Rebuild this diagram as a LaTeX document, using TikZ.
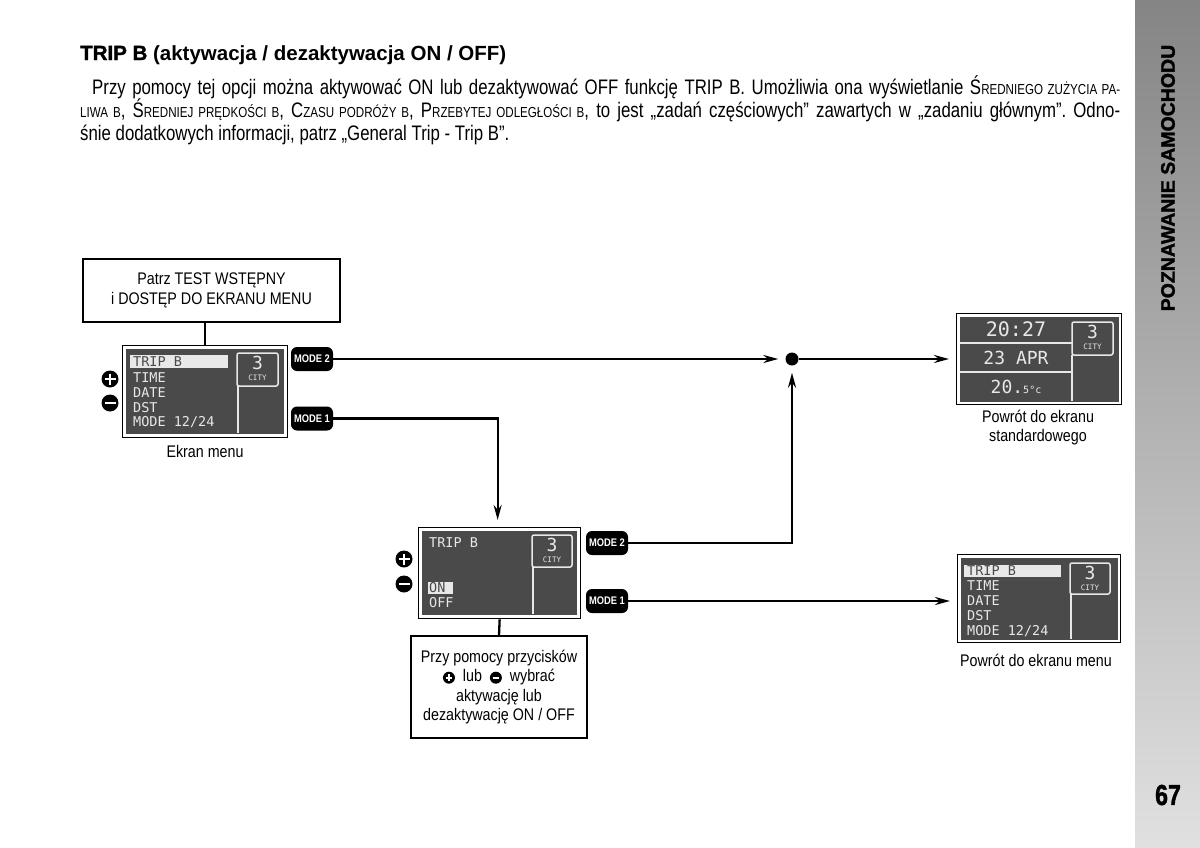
\documentclass[tikz,border=0pt]{standalone}
\usepackage{fontspec}
\setmainfont{Liberation Sans}[FakeStretch=0.85]
\newfontfamily\hfont{Liberation Sans}
\newfontfamily\parafont{Liberation Sans}[FakeStretch=0.8]
\newfontfamily\heavyfont{Liberation Sans}[BoldFeatures={FakeBold=1.5}]
\newfontfamily\lcd{DejaVu Sans Mono}
\usetikzlibrary{arrows.meta}
\frenchspacing
\definecolor{lcdbg}{HTML}{4A4A4A}
\definecolor{lcdfg}{HTML}{E8E8E8}
\newcommand\smc[1]{{\fontsize{14.5}{14.5}\selectfont #1}}
\newcommand\pluscirc{\tikz[baseline=-4pt,x=1pt,y=1pt]{\fill[black] (0,0) circle (6); \draw[white,line width=2pt] (-3.3,0)--(3.3,0) (0,-3.3)--(0,3.3);}}
\newcommand\minuscirc{\tikz[baseline=-4pt,x=1pt,y=1pt]{\fill[black] (0,0) circle (6); \draw[white,line width=2pt] (-3.3,0)--(3.3,0);}}
\tikzset{
  lcdfr/.style={draw=black, line width=1.3pt, fill=white, inner sep=0pt, anchor=north west},
  lcdtxt/.style={text=lcdfg, font=\lcd\fontsize{13.5}{13.5}\selectfont, inner sep=0pt, anchor=west},
  lcdsel/.style={lcdtxt, text=lcdbg},
  lcdline/.style={draw=lcdfg, line width=1.3pt},
  citybox/.style={draw=lcdfg, line width=1.5pt, rounded corners=2pt},
  citynum/.style={text=lcdfg, font=\lcd\fontsize{18}{18}\selectfont, inner sep=0pt},
  citylbl/.style={text=lcdfg, font=\lcd\fontsize{7.5}{7.5}\selectfont, inner sep=0pt},
  modebtn/.style={fill=black, rounded corners=6pt, minimum width=42pt, minimum height=24pt, inner sep=0pt, text=white, font=\bfseries\fontsize{11}{11}\selectfont},
  arr/.style={line width=2.3pt, -{Stealth[length=15pt,width=8pt]}, shorten >=7pt},
  conn/.style={line width=2.3pt},
  infobox/.style={draw=black, line width=1.3pt, fill=white, align=center, inner sep=0pt, font=\fontsize{16.8}{19.5}\selectfont},
  lbl/.style={align=center, inner sep=0pt, font=\fontsize{16.8}{19}\selectfont},
  pmc/.style={circle, fill=black, minimum size=17pt, inner sep=0pt},
  para/.style={anchor=base west, inner sep=0pt, font=\parafont\fontsize{21}{23}\selectfont},
}
\begin{document}
\begin{tikzpicture}[x=1pt,y=-1pt]
\useasboundingbox (0,0) rectangle (1200,847);
\fill[white] (0,0) rectangle (1200,847);
% sidebar
\shade[top color=black!48, bottom color=black!12] (1135,0) rectangle (1200,847);
\node[rotate=90, inner sep=0pt, font=\heavyfont\bfseries\fontsize{19.5}{19.5}\selectfont] (side) at (1168,178) {POZNAWANIE SAMOCHODU};
\node[inner sep=0pt, font=\heavyfont\bfseries\fontsize{29}{29}\selectfont] (pgnum) at (1168,795) {\scalebox{0.8}[1]{67}};
% title and paragraph
\node[anchor=base west, inner sep=0pt, font=\hfont\bfseries\fontsize{20.5}{20.5}\selectfont] (title) at (80,60) {{\heavyfont\bfseries TRIP B} (aktywacja / dezaktywacja ON / OFF)};
\node[para] (p1) at (92,94) {\makebox[1028pt][s]{Przy pomocy tej opcji można aktywować ON lub dezaktywować OFF funkcję TRIP B. Umożliwia ona wyświetlanie Ś\smc{REDNIEGO ZUŻYCIA PA-}}};
\node[para] (p2) at (80,117) {\makebox[1040pt][s]{\smc{LIWA B}, Ś\smc{REDNIEJ PRĘDKOŚCI B}, C\smc{ZASU PODRÓŻY B}, P\smc{RZEBYTEJ ODLEGŁOŚCI B}, to jest „zadań częściowych” zawartych w „zadaniu głównym”. Odno-}};
\node[para] (p3) at (80,140) {śnie dodatkowych informacji, patrz „General Trip - Trip B”.};

% box 1
\node[infobox, minimum width=257pt, minimum height=63pt] (box1) at (211.5,290.5) {Patrz TEST WSTĘPNY\\i DOSTĘP DO EKRANU MENU};

% screen 1: menu
\node[lcdfr, minimum width=165pt, minimum height=92pt] (scr1) at (122,345) {};
\fill[lcdbg] ([shift={(4,4)}]scr1.north west) rectangle ([shift={(-4,-4)}]scr1.south east);
\draw[citybox] (237,353) rectangle (278,386);
\draw[lcdline] (238,386) -- (238,433);
\node[citynum] (c1n) at (257.5,363) {3};
\node[citylbl] (c1l) at (257.5,378) {CITY};
\fill[lcdfg] (130,355) rectangle (228,368);
\node[lcdsel] (s1a) at (133,362) {TRIP B};
\node[lcdtxt] (s1b) at (133,378) {TIME};
\node[lcdtxt] (s1c) at (133,393) {DATE};
\node[lcdtxt] (s1d) at (133,407.5) {DST};
\node[lcdtxt] (s1e) at (133,422) {MODE 12/24};
\node[pmc] (plus1) at (110,379) {};
\draw[white, line width=2.8pt] (104.5,379) -- (115.5,379) (110,373.5) -- (110,384.5);
\node[pmc] (minus1) at (110,403) {};
\draw[white, line width=2.8pt] (104.5,403) -- (115.5,403);
\node[lbl] (l1) at (205,451) {Ekran menu};
\node[modebtn] (m2a) at (312,359) {MODE 2};
\node[modebtn] (m1a) at (312,418.5) {MODE 1};

% junction dot
\node[circle, fill=black, minimum size=13pt, inner sep=0pt] (dot) at (792,359) {};

% screen 3: standard
\node[lcdfr, minimum width=165pt, minimum height=91pt] (scr3) at (956,313) {};
\fill[lcdbg] ([shift={(3.5,3.5)}]scr3.north west) rectangle ([shift={(-3.5,-3.5)}]scr3.south east);
\draw[lcdline] (959.5,343) -- (1072,343) (959.5,372) -- (1072,372);
\draw[citybox] (1072,322) rectangle (1113,355);
\draw[lcdline] (1072,355) -- (1072,400.5);
\node[citynum] (c3n) at (1092.5,332) {3};
\node[citylbl] (c3l) at (1092.5,347) {CITY};
\node[text=lcdfg, inner sep=0pt, font=\lcd\fontsize{20}{20}\selectfont] (t3a) at (1016,329) {20:27};
\node[text=lcdfg, inner sep=0pt, font=\lcd\fontsize{18}{18}\selectfont] (t3b) at (1016,358) {23 APR};
\node[text=lcdfg, inner sep=0pt, font=\lcd\fontsize{18}{18}\selectfont] (t3c) at (1016,387) {20.{\fontsize{10}{10}\selectfont 5°c}};
\node[lbl] (l3) at (1038,427.5) {Powrót do ekranu\\standardowego};

% screen 2: TRIP B ON/OFF
\node[lcdfr, minimum width=162pt, minimum height=91pt] (scr2) at (418,527) {};
\fill[lcdbg] ([shift={(4,4)}]scr2.north west) rectangle ([shift={(-4,-4)}]scr2.south east);
\draw[citybox] (532,535) rectangle (572,567);
\draw[lcdline] (533,567) -- (533,614);
\node[citynum] (c2n) at (552,545) {3};
\node[citylbl] (c2l) at (552,560) {CITY};
\node[lcdtxt] (s2a) at (429,543) {TRIP B};
\fill[lcdfg] (428,582) rectangle (453,594);
\node[lcdsel] (s2b) at (429,588) {ON};
\node[lcdtxt] (s2c) at (429,603) {OFF};
\node[pmc] (plus2) at (404,559) {};
\draw[white, line width=2.8pt] (398.5,559) -- (409.5,559) (404,553.5) -- (404,564.5);
\node[pmc] (minus2) at (404,584) {};
\draw[white, line width=2.8pt] (398.5,584) -- (409.5,584);
\node[modebtn] (m2b) at (607,543) {MODE 2};
\node[modebtn] (m1b) at (607,601) {MODE 1};

% box 2
\node[infobox, minimum width=176pt, minimum height=102pt] (box2) at (499,687) {Przy pomocy przycisków\\\pluscirc\ \ lub \ \minuscirc\ \ wybrać\\aktywację lub\\dezaktywację ON / OFF};

% screen 4: menu return
\node[lcdfr, minimum width=163pt, minimum height=88pt] (scr4) at (957,554) {};
\fill[lcdbg] ([shift={(3.5,3.5)}]scr4.north west) rectangle ([shift={(-3.5,-3.5)}]scr4.south east);
\draw[citybox] (1070,563) rectangle (1110,594);
\draw[lcdline] (1071,594) -- (1071,639);
\node[citynum] (c4n) at (1090,573) {3};
\node[citylbl] (c4l) at (1090,588) {CITY};
\fill[lcdfg] (964,565) rectangle (1061,577);
\node[lcdsel] (s4a) at (967,571) {TRIP B};
\node[lcdtxt] (s4b) at (967,586) {TIME};
\node[lcdtxt] (s4c) at (967,601) {DATE};
\node[lcdtxt] (s4d) at (967,616) {DST};
\node[lcdtxt] (s4e) at (967,631) {MODE 12/24};
\node[lbl] (l4) at (1036,660) {Powrót do ekranu menu};

% connectors
\draw[conn] (box1.south -| scr1.north) -- (scr1.north);
\draw[arr] (m2a.east) -- (dot.west);
\draw[arr] (dot.east) -- (dot.east -| scr3.west);
\draw[arr] (m1a.east) -| ([xshift=-2pt]scr2.north);
\draw[arr] (m2b.east) -| (dot.south);
\draw[arr] (m1b.east) -- (m1b.east -| scr4.west);
\draw[conn] (scr2.south) -- (box2.north);
\end{tikzpicture}
\end{document}
